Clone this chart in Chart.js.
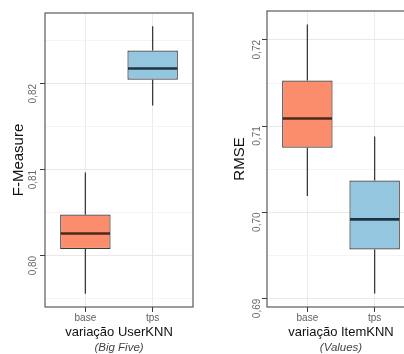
<!DOCTYPE html>
<html>
<head>
<meta charset="utf-8">
<script src="https://cdn.jsdelivr.net/npm/chart.js@4/dist/chart.umd.min.js"></script>
<style>
  html, body { margin: 0; padding: 0; width: 404px; height: 354px; overflow: hidden; background: #fff; }
  canvas { position: absolute; top: 0; }
  #fm { left: 0; }
  #rmse { left: 222px; }
</style>
</head>
<body>
<canvas id="fm" width="200" height="354"></canvas>
<canvas id="rmse" width="200" height="354"></canvas>
<script>
const categories = ['base', 'tps'];

// F-Measure, variação UserKNN (Big Five)
const fmMin    = [0.7956, 0.8175];
const fmQ1     = [0.8008, 0.8205];
const fmMedian = [0.8026, 0.8218];
const fmQ3     = [0.8048, 0.8239];
const fmMax    = [0.8097, 0.8267];
const fmTicks      = [0.80, 0.81, 0.82];
const fmTickLabels = ['0,80', '0,81', '0,82'];
const fmMinorTicks = [0.795, 0.805, 0.815, 0.825];

// RMSE, variação ItemKNN (Values)
const rmseMin    = [0.7019, 0.6906];
const rmseQ1     = [0.7075, 0.6957];
const rmseMedian = [0.7109, 0.6992];
const rmseQ3     = [0.7153, 0.7037];
const rmseMax    = [0.7218, 0.7088];
const rmseTicks      = [0.69, 0.70, 0.71, 0.72];
const rmseTickLabels = ['0,69', '0,70', '0,71', '0,72'];
const rmseMinorTicks = [0.695, 0.705, 0.715];

const FONT = "'Liberation Sans', Arial, Helvetica, sans-serif";
Chart.defaults.font.family = FONT;

const boxFills = ['#fb8c6c', '#95c6df'];
const medianColors = ['#4b2a1e', '#1d3444'];
const lineColor = '#3b3b3b';

// y range padded by 5% of the data spread
function paddedRange(lo, hi) {
  const a = Math.min(...lo), b = Math.max(...hi);
  const pad = (b - a) * 0.05;
  return { min: a - pad, max: b + pad };
}

// whiskers behind the boxes, medians and the panel frame on top
function boxParts(stats) {
  return {
    id: 'boxParts',
    beforeDatasetsDraw(chart) {
      const { ctx, scales: { x, y } } = chart;
      ctx.save();
      ctx.strokeStyle = lineColor;
      ctx.lineWidth = 1.3;
      categories.forEach((_, i) => {
        const px = x.getPixelForValue(i + 1);
        ctx.beginPath();
        ctx.moveTo(px, y.getPixelForValue(stats.max[i]));
        ctx.lineTo(px, y.getPixelForValue(stats.q3[i]));
        ctx.moveTo(px, y.getPixelForValue(stats.q1[i]));
        ctx.lineTo(px, y.getPixelForValue(stats.min[i]));
        ctx.stroke();
      });
      ctx.restore();
    },
    afterDatasetsDraw(chart) {
      const { ctx, chartArea, scales: { y } } = chart;
      const bars = chart.getDatasetMeta(0).data;
      ctx.save();
      ctx.lineWidth = 2.6;
      bars.forEach((bar, i) => {
        const py = y.getPixelForValue(stats.median[i]);
        ctx.strokeStyle = medianColors[i];
        ctx.beginPath();
        ctx.moveTo(bar.x - bar.width / 2 + 0.6, py);
        ctx.lineTo(bar.x + bar.width / 2 - 0.6, py);
        ctx.stroke();
      });
      ctx.strokeStyle = '#4a4a4a';
      ctx.lineWidth = 1.1;
      ctx.strokeRect(chartArea.left, chartArea.top,
                     chartArea.right - chartArea.left, chartArea.bottom - chartArea.top);
      ctx.restore();
    }
  };
}

function boxChart(id, o) {
  const range = paddedRange(o.stats.min, o.stats.max);
  const yValues = [...o.ticks, ...o.minorTicks].sort((a, b) => a - b);
  const majorIndex = v => o.ticks.findIndex(t => Math.abs(t - v) < 1e-9);

  return new Chart(document.getElementById(id), {
    type: 'bar',
    data: {
      datasets: [{
        data: categories.map((_, i) => ({ x: i + 1, y: [o.stats.q1[i], o.stats.q3[i]] })),
        backgroundColor: boxFills,
        borderColor: lineColor,
        borderWidth: 1.2,
        borderSkipped: false,
        barPercentage: 0.75,
        categoryPercentage: 1
      }]
    },
    options: {
      responsive: false,
      animation: false,
      devicePixelRatio: 1,
      layout: { padding: { top: 11, right: 7, bottom: 0, left: 0 } },
      plugins: {
        legend: { display: false },
        tooltip: { enabled: false },
        title: {
          display: true,
          text: o.note,
          position: 'bottom',
          fullSize: false,
          color: '#444',
          font: { family: FONT, size: 11.5, style: 'italic', weight: 'normal', lineHeight: 1 },
          padding: 0
        }
      },
      scales: {
        x: {
          type: 'linear',
          min: 0.4,
          max: 2.6,
          offset: false,
          afterBuildTicks: s => { s.ticks = categories.map((_, i) => ({ value: i + 1 })); },
          afterFit: s => { s.height = 35.5; },
          ticks: {
            callback: v => categories[Math.round(v) - 1],
            color: '#5e5e5e',
            font: { size: 10 },
            padding: 0,
            autoSkip: false,
            maxRotation: 0
          },
          grid: {
            offset: false,
            color: '#ebebeb',
            lineWidth: 1,
            drawTicks: true,
            tickLength: 5,
            tickColor: lineColor,
            tickWidth: 1
          },
          border: { display: false },
          title: {
            display: true,
            text: o.xTitle,
            color: '#111',
            font: { size: 13 },
            padding: { top: 0, bottom: 2 }
          }
        },
        y: {
          min: range.min,
          max: range.max,
          afterBuildTicks: s => { s.ticks = yValues.map(v => ({ value: v })); },
          afterFit: s => { s.width = 45; },
          ticks: {
            callback: v => { const i = majorIndex(v); return i >= 0 ? o.tickLabels[i] : ''; },
            minRotation: 90,
            maxRotation: 90,
            autoSkip: false,
            color: '#6a6a6a',
            font: { size: 10 },
            padding: o.tickPad
          },
          grid: {
            color: c => majorIndex(c.tick.value) >= 0 ? '#e9e9e9' : '#f4f4f4',
            lineWidth: 1,
            drawTicks: true,
            tickLength: 5,
            tickColor: c => majorIndex(c.tick.value) >= 0 ? lineColor : 'rgba(0,0,0,0)',
            tickWidth: 1
          },
          border: { display: false },
          title: {
            display: true,
            text: o.yTitle,
            color: '#111',
            font: { size: 15 },
            padding: { top: o.titlePad, bottom: 0 }
          }
        }
      }
    },
    plugins: [boxParts(o.stats)]
  });
}

boxChart('fm', {
  stats: { min: fmMin, q1: fmQ1, median: fmMedian, q3: fmQ3, max: fmMax },
  ticks: fmTicks,
  tickLabels: fmTickLabels,
  minorTicks: fmMinorTicks,
  yTitle: 'F-Measure',
  xTitle: 'variação UserKNN',
  note: '(Big Five)',
  tickPad: 7,
  titlePad: 10
});

boxChart('rmse', {
  stats: { min: rmseMin, q1: rmseQ1, median: rmseMedian, q3: rmseQ3, max: rmseMax },
  ticks: rmseTicks,
  tickLabels: rmseTickLabels,
  minorTicks: rmseMinorTicks,
  yTitle: 'RMSE',
  xTitle: 'variação ItemKNN',
  note: '(Values)',
  tickPad: 5,
  titlePad: 9
});
</script>
</body>
</html>
